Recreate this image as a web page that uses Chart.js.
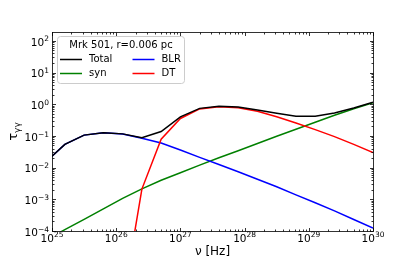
<!DOCTYPE html>
<html>
<head>
<meta charset="utf-8">
<script src="https://cdn.jsdelivr.net/npm/chart.js@4.4.1/dist/chart.umd.min.js"></script>
<style>
html,body{margin:0;padding:0;background:#fff;}
canvas{display:block;}
</style>
</head>
<body>
<canvas id="c" width="415" height="260"></canvas>
<script>
// Frequencies (Hz)
const freq = [1e25, 1.585e25, 3.162e25, 6.31e25, 1.259e26, 2.512e26, 5.012e26, 1e27, 1.995e27, 3.981e27, 7.943e27, 1.585e28, 3.162e28, 6.31e28, 1.259e29, 2.512e29, 5.012e29, 1e30];
// Optical depths
const tauTotal = [0.023, 0.054, 0.106, 0.126, 0.116, 0.088, 0.138, 0.40, 0.74, 0.87, 0.82, 0.66, 0.52, 0.42, 0.42, 0.53, 0.76, 1.15];
const tauSyn   = [6.6e-5, 1.10e-4, 2.34e-4, 5.0e-4, 1.07e-3, 2.14e-3, 3.98e-3, 6.9e-3, 0.0120, 0.0204, 0.0339, 0.0575, 0.0977, 0.162, 0.269, 0.447, 0.724, 1.12];
const tauBLR   = [0.023, 0.054, 0.106, 0.126, 0.115, 0.085, 0.060, 0.036, 0.021, 0.0126, 0.0074, 0.0043, 0.0025, 0.00138, 0.00078, 0.00043, 0.00023, 0.000123];
const tauDT    = [null, null, null, null, 5e-7, 0.0021, 0.079, 0.355, 0.71, 0.83, 0.78, 0.60, 0.40, 0.257, 0.158, 0.095, 0.054, 0.030];
const xTickExps = [25, 26, 27, 28, 29, 30];
const yTickExps = [-4, -3, -2, -1, 0, 1, 2];
const legendTitle = 'Mrk 501, r=0.006 pc';
const xTitle = 'ν [Hz]';

const FONT = "'DejaVu Sans', sans-serif";
const BASE = "10.5px " + FONT;
const EXP = "7.5px " + FONT;
function pts(arr){
  const out = [];
  arr.forEach((v,i) => { if (v !== null) out.push({x: freq[i], y: v}); });
  return out;
}
function expText(e){ return String(e).replace('-', '\u2212'); }

const frameTicks = {
  id: 'frameTicks',
  afterDatasetsDraw(chart){
    const {ctx, chartArea: a, scales} = chart;
    const xs = scales.x, ys = scales.y;
    ctx.save();
    ctx.strokeStyle = '#000';
    ctx.lineWidth = 0.8;
    const L = Math.round(a.left)+0.5, R = Math.round(a.right)+0.5, T = Math.round(a.top)+0.5, B = Math.round(a.bottom)+0.5;
    ctx.strokeRect(L, T, R-L, B-T);
    ctx.beginPath();
    const xTop = Math.pow(10, xTickExps[xTickExps.length-1]) * 1.0001;
    for (let e = xTickExps[0]; e <= xTickExps[xTickExps.length-1]; e++){
      for (let m = 1; m <= 9; m++){
        const v = m * Math.pow(10, e);
        if (v > xTop) break;
        const px = Math.round(xs.getPixelForValue(v)) + 0.5;
        const len = m === 1 ? 3.5 : 2;
        ctx.moveTo(px, B); ctx.lineTo(px, B - len);
        ctx.moveTo(px, T); ctx.lineTo(px, T + len);
      }
    }
    const ymax = ys.max;
    for (let e = yTickExps[0]; e <= yTickExps[yTickExps.length-1]; e++){
      for (let m = 1; m <= 9; m++){
        const v = m * Math.pow(10, e);
        if (v > ymax) break;
        const py = Math.round(ys.getPixelForValue(v)) + 0.5;
        const len = m === 1 ? 3.5 : 2;
        ctx.moveTo(L, py); ctx.lineTo(L + len, py);
        ctx.moveTo(R, py); ctx.lineTo(R - len, py);
      }
    }
    ctx.stroke();

    // tick labels: "10" with raised exponent
    ctx.fillStyle = '#000';
    ctx.textAlign = 'left';
    ctx.textBaseline = 'alphabetic';
    xTickExps.forEach(e => {
      const px = xs.getPixelForValue(Math.pow(10, e));
      ctx.font = BASE;
      const w1 = ctx.measureText('10').width;
      ctx.font = EXP;
      const w2 = ctx.measureText(expText(e)).width;
      const x0 = px - (w1 + w2) / 2;
      ctx.font = BASE;
      ctx.fillText('10', x0, a.bottom + 11);
      ctx.font = EXP;
      ctx.fillText(expText(e), x0 + w1, a.bottom + 6.3);
    });
    yTickExps.forEach(e => {
      const py = ys.getPixelForValue(Math.pow(10, e));
      ctx.font = EXP;
      const w2 = ctx.measureText(expText(e)).width;
      ctx.font = BASE;
      const w1 = ctx.measureText('10').width;
      const xr = a.left - 3;
      ctx.fillText('10', xr - w2 - w1, py + 4.8);
      ctx.font = EXP;
      ctx.fillText(expText(e), xr - w2, py + 0.6);
    });
    ctx.restore();
  }
};

const yTitlePlugin = {
  id: 'yTitle',
  afterDraw(chart){
    const {ctx, chartArea: a} = chart;
    ctx.save();
    const cy = (a.top + a.bottom) / 2;
    ctx.translate(13, cy);
    ctx.rotate(-Math.PI/2);
    ctx.fillStyle = '#000';
    ctx.textBaseline = 'alphabetic';
    ctx.font = "13px " + FONT;
    const w1 = ctx.measureText('τ').width;
    ctx.font = "9px " + FONT;
    const w2 = ctx.measureText('γγ').width;
    const x0 = -(w1 + w2) / 2;
    ctx.font = "13px " + FONT;
    ctx.fillText('τ', x0, 4);
    ctx.font = "9px " + FONT;
    ctx.fillText('γγ', x0 + w1, 7);
    ctx.restore();
  }
};

const legendPlugin = {
  id: 'boxLegend',
  afterDraw(chart){
    const {ctx} = chart;
    const ds = chart.data.datasets;
    const x = 57.5, y = 36.5, w = 127, h = 47, r = 3;
    ctx.save();
    ctx.beginPath();
    ctx.moveTo(x + r, y);
    ctx.arcTo(x + w, y, x + w, y + h, r);
    ctx.arcTo(x + w, y + h, x, y + h, r);
    ctx.arcTo(x, y + h, x, y, r);
    ctx.arcTo(x, y, x + w, y, r);
    ctx.closePath();
    ctx.fillStyle = 'rgba(255,255,255,0.8)';
    ctx.fill();
    ctx.strokeStyle = '#cccccc';
    ctx.lineWidth = 1;
    ctx.stroke();
    ctx.fillStyle = '#000';
    ctx.font = "10px " + FONT;
    ctx.textAlign = 'center';
    ctx.textBaseline = 'middle';
    ctx.fillText(legendTitle, x + w/2, 45);
    ctx.textAlign = 'left';
    const layout = [[0, 0, 59.5], [1, 0, 73.5], [2, 1, 59.5], [3, 1, 73.5]];
    const colX = [60, 132.5];
    layout.forEach(([i, c, ry]) => {
      const d = ds[i];
      ctx.strokeStyle = d.borderColor;
      ctx.lineWidth = 1.5;
      ctx.beginPath();
      ctx.moveTo(colX[c], ry); ctx.lineTo(colX[c] + 22, ry);
      ctx.stroke();
      ctx.fillText(d.label, colX[c] + 29, ry);
    });
    ctx.restore();
  }
};

new Chart(document.getElementById('c'), {
  type: 'line',
  data: {
    datasets: [
      {label: 'Total', data: pts(tauTotal), borderColor: '#000000', order: 0},
      {label: 'syn', data: pts(tauSyn), borderColor: '#008000', order: 3},
      {label: 'BLR', data: pts(tauBLR), borderColor: '#0000ff', order: 2},
      {label: 'DT', data: pts(tauDT), borderColor: '#ff0000', order: 1}
    ].map(d => Object.assign(d, {borderWidth: 1.5, pointRadius: 0, fill: false, tension: 0, spanGaps: false}))
  },
  options: {
    responsive: false,
    animation: false,
    devicePixelRatio: 1,
    layout: {padding: {top: 32, right: 42, left: 0, bottom: 0}},
    plugins: {legend: {display: false}, tooltip: {enabled: false}},
    scales: {
      x: {
        type: 'logarithmic',
        min: 1e25, max: 1e30,
        grid: {display: false, drawTicks: false, tickLength: 0},
        border: {display: false},
        ticks: {display: false},
        title: {display: true, text: xTitle, color: '#000', font: {family: FONT, size: 12}, padding: {top: 0, bottom: 1}},
        afterFit: s => { s.height = 29; }
      },
      y: {
        type: 'logarithmic',
        min: 1e-4, max: 190,
        grid: {display: false, drawTicks: false, tickLength: 0},
        border: {display: false},
        ticks: {display: false},
        afterFit: s => { s.width = 52; }
      }
    }
  },
  plugins: [frameTicks, yTitlePlugin, legendPlugin]
});
</script>
</body>
</html>
